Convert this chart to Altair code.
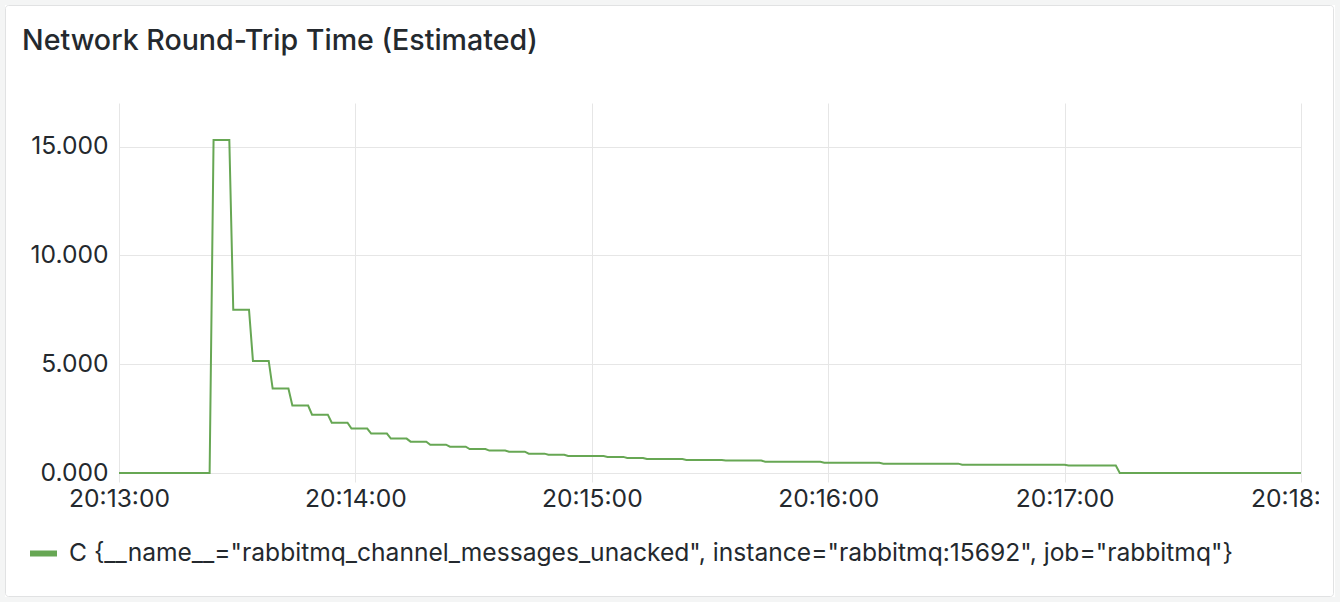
import altair as alt
import pandas as pd

# ---- data ----
title_text = "Network Round-Trip Time (Estimated)"
series_name = 'C {__name__="rabbitmq_channel_messages_unacked", instance="rabbitmq:15692", job="rabbitmq"}'
base_time = "2024-01-01 20:13:00"
# seconds after 20:13:00 at which each step value starts
step_start = [24, 29, 34, 39, 44, 49, 54, 59, 64, 69, 74, 79, 84, 89, 94, 99,
              104, 109, 114, 124, 129, 134, 144, 154, 164, 179, 194, 214, 241, 254]
step_value = [15.3, 7.5, 5.15, 3.88, 3.10, 2.68, 2.31, 2.04, 1.81, 1.58, 1.44, 1.30,
              1.21, 1.10, 1.03, 0.98, 0.89, 0.84, 0.78, 0.74, 0.69, 0.64, 0.60, 0.57,
              0.52, 0.47, 0.43, 0.38, 0.34, 0.0]
initial_value = 0.0
range_end = 300  # 20:18:00
y_ticks = [0, 5, 10, 15]
x_tick_minutes = [13, 14, 15, 16, 17, 18]

# build the points (start and end of every step)
secs = [0, step_start[0] - 1]
vals = [initial_value, initial_value]
for i, (s, v) in enumerate(zip(step_start, step_value)):
    end = step_start[i + 1] - 1 if i + 1 < len(step_start) else range_end
    secs += [s, end]
    vals += [v, v]
t0 = pd.Timestamp(base_time)
df = pd.DataFrame({
    "time": [(t0 + pd.Timedelta(seconds=s)).strftime("%Y-%m-%dT%H:%M:%S") for s in secs],
    "value": vals,
    "series": series_name,
})

GREEN = "#67a754"
TEXT = "#24292e"
GRID = "#e6e6e6"
FONT = "Inter"
FS = 24.6


def dt(minute):
    return alt.DateTime(year=2024, month=1, date=1, hours=20, minutes=minute, seconds=0)


line = alt.Chart(df).mark_line(strokeWidth=2, interpolate="linear").encode(
    x=alt.X("time:T", title=None,
            scale=alt.Scale(domain=[dt(13), dt(18)]),
            axis=alt.Axis(values=[dt(m) for m in x_tick_minutes], format="%H:%M:%S",
                          grid=True, gridColor=GRID, ticks=True, tickColor=GRID,
                          tickSize=9, domain=False, labelFont=FONT, labelFontSize=FS,
                          labelColor=TEXT, labelPadding=5, labelFlush=False,
                          labelOverlap=False, zindex=0)),
    y=alt.Y("value:Q", title=None,
            scale=alt.Scale(domain=[0, 17], nice=False),
            axis=alt.Axis(values=y_ticks, format=".3f", grid=True, gridColor=GRID,
                          ticks=False, domain=False, labelFont=FONT, labelFontSize=FS,
                          labelColor=TEXT, labelPadding=11, zindex=0)),
    color=alt.Color("series:N", scale=alt.Scale(range=[GREEN]),
                    legend=alt.Legend(orient="none", legendX=-92, legendY=434,
                                      title=None, symbolType="stroke", symbolSize=729,
                                      symbolStrokeWidth=6, labelFont=FONT,
                                      labelFontSize=FS, labelColor=TEXT,
                                      labelLimit=1300, labelOffset=9, padding=0)),
)

one = pd.DataFrame({"k": [0]})

title = alt.Chart(one).mark_text(text=title_text, align="left", baseline="alphabetic",
                                 font=FONT, fontSize=28.6, fontWeight=500,
                                 color=TEXT).encode(
    x=alt.value(22 - 119), y=alt.value(49.5 - 103))

cover = alt.Chart(one).mark_rect(fill="white", stroke=None).encode(
    x=alt.value(1200), x2=alt.value(1221), y=alt.value(377), y2=alt.value(428))

outer = alt.Chart(one).mark_rect(fillOpacity=0, stroke="#f4f5f5", strokeWidth=10).encode(
    x=alt.value(-119), x2=alt.value(1221), y=alt.value(-103), y2=alt.value(499))

border = alt.Chart(one).mark_rect(fillOpacity=0, stroke="#e1e2e3", strokeWidth=1,
                                  cornerRadius=3).encode(
    x=alt.value(-113.5), x2=alt.value(1214.5), y=alt.value(-97.5), y2=alt.value(493.5))

chart = alt.layer(line, title, cover, outer, border).properties(
    width=1182, height=370,
    autosize=alt.AutoSizeParams(type="none"),
    padding={"left": 119, "top": 103, "right": 39, "bottom": 129},
    background="white",
).configure_view(stroke=None)

chart.save("out.html", embed_options={"renderer": "svg", "actions": False})
